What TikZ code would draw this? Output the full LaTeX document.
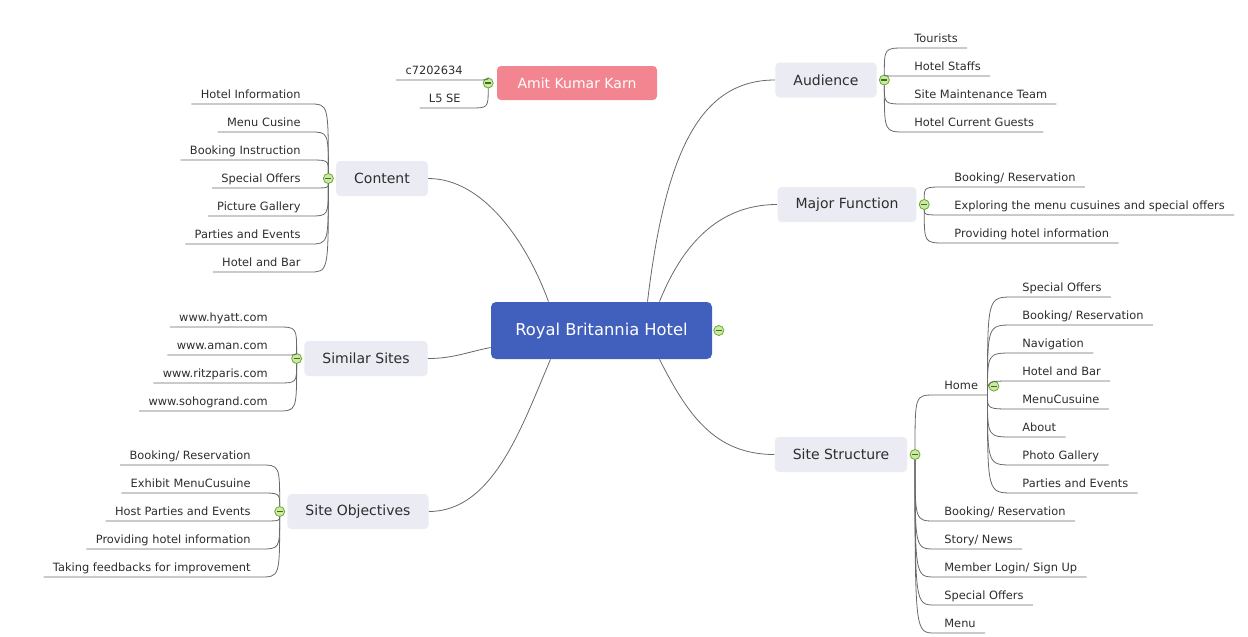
\documentclass[tikz,border=0pt]{standalone}
\usepackage{fontspec}
\setmainfont{DejaVu Sans}
\usetikzlibrary{positioning}
\definecolor{hubblue}{RGB}{65,96,189}
\definecolor{tagpink}{RGB}{242,133,143}
\definecolor{branchfill}{RGB}{234,235,243}
\definecolor{linegray}{RGB}{105,105,105}
\definecolor{ink}{RGB}{45,45,45}
\definecolor{foldfill}{RGB}{205,232,165}
\definecolor{foldline}{RGB}{105,170,45}
\definecolor{foldminus}{RGB}{55,115,25}
\newcommand{\leaffont}{\fontsize{11.4}{13}\selectfont}
\newcommand{\branchfont}{\fontsize{14}{16}\selectfont}
\newcommand{\hubfont}{\fontsize{16.3}{19}\selectfont}

\begin{document}
\begin{tikzpicture}[%
    x=1pt,y=-1pt,line width=0.8pt,
    hub/.style={rounded corners=5pt,fill=hubblue,text=white,font=\hubfont,
      minimum width=221pt,minimum height=57pt},
    tag/.style={rounded corners=4pt,fill=tagpink,text=white,font=\branchfont,
      minimum width=160pt,minimum height=34pt},
    limbbox/.style={rounded corners=4pt,fill=branchfill,text=ink,font=\branchfont,
      minimum height=35pt,inner xsep=18pt},
    limb/.style={draw=linegray},
    fold/.style={circle,draw=foldline,fill=foldfill,inner sep=0pt,minimum size=10pt,
      path picture={\draw[foldminus,line width=1.2pt]
        ([xshift=-3pt]path picture bounding box.center) --
        ([xshift=3pt]path picture bounding box.center);}},
    leaf/.style={inner xsep=9pt,inner ysep=3pt,text height=9pt,text depth=2pt,
      font=\leaffont,text=ink},
    leafl/.style={leaf,anchor=south east},
    leafr/.style={leaf,anchor=south west},
    twigl/.style={draw=linegray,to path={.. controls (\tikztostart |- \tikztotarget.south east)
      .. (\tikztotarget.south east) -- (\tikztotarget.south west) \tikztonodes}},
    twigr/.style={draw=linegray,to path={.. controls (\tikztostart |- \tikztotarget.south west)
      .. (\tikztotarget.south west) -- (\tikztotarget.south east) \tikztonodes}}
  ]
    \useasboundingbox (0,0) rectangle (1248,637);

    % main topics
    \node[hub] (central) at (601.5,330.5) {Royal Britannia Hotel};
    \node[tag] (amit) at (577,83) {Amit Kumar Karn};
    \node[limbbox] (content) at (382,178.5) {Content};
    \node[limbbox] (similar) at (366,358.5) {Similar Sites};
    \node[limbbox] (goals) at (358,511.5) {Site Objectives};
    \node[limbbox] (audience) at (826,80) {Audience};
    \node[limbbox] (mainfn) at (847,204.5) {Major Function};
    \node[limbbox] (structure) at (841,454.5) {Site Structure};

    % branches from the hotel
    \draw[limb] (content.east) .. controls +(55,0) and +(-22,-60) .. ([xshift=-53pt]central.north);
    \draw[limb] ([yshift=-17pt]central.west) .. controls +(-25,5) and +(25,0) .. (similar.east);
    \draw[limb] ([xshift=-51pt]central.south) .. controls +(-28,65) and +(65,0) .. (goals.east);
    \draw[limb] ([xshift=46pt]central.north) .. controls +(18,-150) and +(-75,0) .. (audience.west);
    \draw[limb] ([xshift=58pt]central.north) .. controls +(22,-55) and +(-60,0) .. (mainfn.west);
    \draw[limb] ([xshift=58pt]central.south) .. controls +(28,55) and +(-60,0) .. (structure.west);

    % leaves
    \node[leafl] (id1) at (472,80) {c7202634};
    \node[leafl] (id2) at (470,108) {L5 SE};

    \node[leafl] (c1) at (310,104) {Hotel Information};
    \node[leafl] (c2) at (310,132) {Menu Cusine};
    \node[leafl] (c3) at (310,160) {Booking Instruction};
    \node[leafl] (c4) at (310,188) {Special Offers};
    \node[leafl] (c5) at (310,216) {Picture Gallery};
    \node[leafl] (c6) at (310,244) {Parties and Events};
    \node[leafl] (c7) at (310,272) {Hotel and Bar};

    \node[leafl] (s1) at (277,327) {www.hyatt.com};
    \node[leafl] (s2) at (277,355) {www.aman.com};
    \node[leafl] (s3) at (277,383) {www.ritzparis.com};
    \node[leafl] (s4) at (277,411) {www.sohogrand.com};

    \node[leafl] (g1) at (260,465) {Booking/ Reservation};
    \node[leafl] (g2) at (260,493) {Exhibit MenuCusuine};
    \node[leafl] (g3) at (260,521) {Host Parties and Events};
    \node[leafl] (g4) at (260,549) {Providing hotel information};
    \node[leafl] (g5) at (260,577) {Taking feedbacks for improvement};

    \node[leafr] (a1) at (905,48) {Tourists};
    \node[leafr] (a2) at (905,76) {Hotel Staffs};
    \node[leafr] (a3) at (905,104) {Site Maintenance Team};
    \node[leafr] (a4) at (905,132) {Hotel Current Guests};

    \node[leafr] (f1) at (945,187) {Booking/ Reservation};
    \node[leafr] (f2) at (945,215) {Exploring the menu cusuines and special offers};
    \node[leafr] (f3) at (945,243) {Providing hotel information};

    \node[leafr] (home) at (935,395) {Home};
    \node[leafr] (t2) at (935,521) {Booking/ Reservation};
    \node[leafr] (t3) at (935,549) {Story/ News};
    \node[leafr] (t4) at (935,577) {Member Login/ Sign Up};
    \node[leafr] (t5) at (935,605) {Special Offers};
    \node[leafr] (t6) at (935,633) {Menu};

    \node[leafr] (h1) at (1013,297) {Special Offers};
    \node[leafr] (h2) at (1013,325) {Booking/ Reservation};
    \node[leafr] (h3) at (1013,353) {Navigation};
    \node[leafr] (h4) at (1013,381) {Hotel and Bar};
    \node[leafr] (h5) at (1013,409) {MenuCusuine};
    \node[leafr] (h6) at (1013,437) {About};
    \node[leafr] (h7) at (1013,465) {Photo Gallery};
    \node[leafr] (h8) at (1013,493) {Parties and Events};

    % fold buttons
    \node[fold] (hubfold) [right=1pt of central] {};
    \node[fold] (amitfold) [left=3pt of amit] {};
    \node[fold] (contentfold) [left=2pt of content] {};
    \node[fold] (similarfold) [left=2pt of similar] {};
    \node[fold] (goalsfold) [left=2pt of goals] {};
    \node[fold] (audiencefold) [right=2pt of audience] {};
    \node[fold] (mainfnfold) [right=2pt of mainfn] {};
    \node[fold] (structurefold) [right=2pt of structure] {};
    \node[fold] (homefold) [right=1pt of home] {};

    \path (amitfold) edge[twigl] (id1) edge[twigl] (id2)
          (contentfold) edge[twigl] (c1) edge[twigl] (c2) edge[twigl] (c3)
            edge[twigl] (c4) edge[twigl] (c5) edge[twigl] (c6) edge[twigl] (c7)
          (similarfold) edge[twigl] (s1) edge[twigl] (s2) edge[twigl] (s3) edge[twigl] (s4)
          (goalsfold) edge[twigl] (g1) edge[twigl] (g2) edge[twigl] (g3)
            edge[twigl] (g4) edge[twigl] (g5)
          (audiencefold) edge[twigr] (a1) edge[twigr] (a2) edge[twigr] (a3) edge[twigr] (a4)
          (mainfnfold) edge[twigr] (f1) edge[twigr] (f2) edge[twigr] (f3)
          (structurefold) edge[twigr] (home) edge[twigr] (t2) edge[twigr] (t3)
            edge[twigr] (t4) edge[twigr] (t5) edge[twigr] (t6)
          (home.south east) edge[twigr] (h1) edge[twigr] (h2) edge[twigr] (h3)
            edge[twigr] (h4) edge[twigr] (h5) edge[twigr] (h6) edge[twigr] (h7)
            edge[twigr] (h8)
          ;
  \end{tikzpicture}
\end{document}
